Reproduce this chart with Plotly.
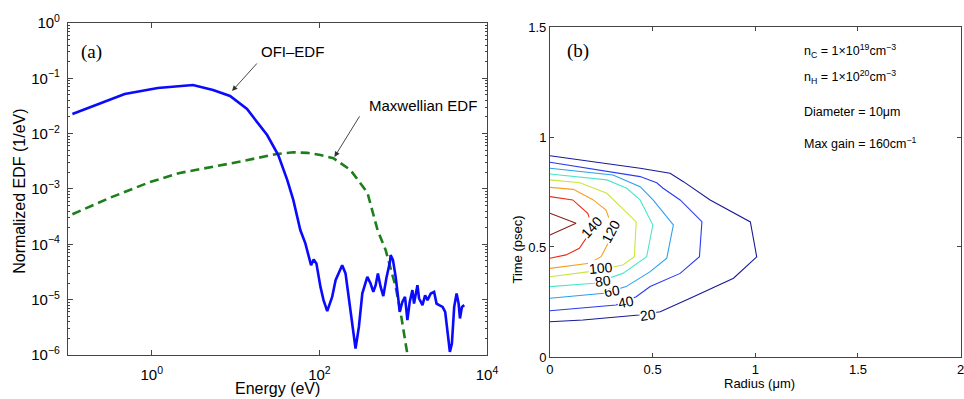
import plotly.graph_objects as go

# ---------------- Panel (a) data ----------------
ofi_energy = [0.113, 0.475, 1.18, 3.10, 5.38, 8.59, 13.7, 23.8, 32.3, 41.4, 48.9, 59.2, 68, 74.5,
              79.5, 85.4, 92.1, 103, 112, 124, 142, 156, 187, 205, 224, 247, 270, 296, 325, 373,
              408, 440, 469, 499, 538, 579, 634, 695, 708, 755, 813, 877, 908, 977, 1051, 1122,
              1196, 1288, 1346, 1479, 1546, 1698, 1825, 1950, 2135, 2338, 2500, 2685, 2950, 3170,
              3383, 3605, 3811, 4058, 4336, 4583, 4753, 5023, 5350]
ofi_edf = [0.0226, 0.052, 0.0668, 0.0757, 0.0614, 0.0479, 0.0279, 0.00944, 0.0041, 0.00145,
           6.3e-4, 1.81e-4, 1.04e-4, 5.94e-5, 4.2e-5, 5.33e-5, 4.52e-5, 1.7e-5, 9.8e-6, 6.2e-6,
           1.12e-5, 2.25e-5, 4.2e-5, 2.98e-5, 1.12e-5, 3.7e-6, 1.31e-6, 3.22e-6, 1.29e-5, 2.58e-5,
           1.96e-5, 1.38e-5, 1.83e-5, 2.98e-5, 1.7e-5, 1.16e-5, 2.58e-5, 4.83e-5, 6.38e-5, 5.18e-5,
           2.58e-5, 9.8e-6, 6.0e-6, 9.1e-6, 1.12e-5, 4.26e-6, 9.1e-6, 1.49e-5, 8.5e-6, 1.83e-5,
           1.05e-5, 7.96e-6, 1.2e-5, 9.8e-6, 1.29e-5, 1.38e-5, 8.5e-6, 7.96e-6, 7.4e-6, 6.0e-6,
           2.8e-6, 1.14e-6, 1.61e-6, 7.4e-6, 1.29e-5, 8.5e-6, 4.57e-6, 7.4e-6, 7.96e-6]

max_energy = [0.113, 0.314, 0.946, 2.16, 9.3, 31.3, 48.9, 71.7, 103, 147, 235, 375, 495, 617,
              813, 935, 1070, 1140]
max_edf = [3.5e-4, 6.9e-4, 1.33e-3, 1.95e-3, 2.95e-3, 4.3e-3, 4.6e-3, 4.5e-3, 4.1e-3, 3.6e-3,
           2.2e-3, 8.5e-4, 1.8e-4, 7.9e-5, 1.7e-5, 5.7e-6, 1.6e-6, 0.9e-6]

a_xtickvals = [1, 100, 10000]
a_xticktext = ["10<sup>0</sup>", "10<sup>2</sup>", "10<sup>4</sup>"]
a_ytickvals = [1e-6, 1e-5, 1e-4, 1e-3, 1e-2, 1e-1, 1]
a_yticktext = ["10<sup>\u22126</sup>", "10<sup>\u22125</sup>", "10<sup>\u22124</sup>",
               "10<sup>\u22123</sup>", "10<sup>\u22122</sup>", "10<sup>\u22121</sup>", "10<sup>0</sup>"]

# ---------------- Panel (b) data: gain contours ----------------
contour_levels = [20, 40, 60, 80, 100, 120, 140, 160]
contour_colors = ["#1a1a9a", "#2a3af0", "#2aa0f0", "#4ee6c8", "#c8e640", "#f5a020", "#f02a18", "#8c2020"]
contour_r = [
    [0, 0.439, 0.585, 0.650, 0.780, 0.976, 1.007, 0.894, 0.683, 0.537, 0.434, 0.161, 0],
    [0, 0.439, 0.520, 0.551, 0.634, 0.740, 0.728, 0.634, 0.488, 0.420, 0.322, 0],
    [0, 0.307, 0.439, 0.502, 0.601, 0.569, 0.488, 0.371, 0.263, 0],
    [0, 0.277, 0.374, 0.439, 0.501, 0.471, 0.355, 0.215, 0],
    [0, 0.146, 0.277, 0.420, 0.411, 0.355, 0.192, 0],
    [0, 0.114, 0.211, 0.273, 0.312, 0.249, 0.192, 0],
    [0, 0.111, 0.184, 0.210, 0.143, 0.078, 0],
    [0, 0.127, 0],
]
contour_t = [
    [0.915, 0.858, 0.835, 0.797, 0.714, 0.614, 0.455, 0.358, 0.267, 0.206, 0.191, 0.168, 0.160],
    [0.885, 0.820, 0.792, 0.767, 0.714, 0.615, 0.456, 0.380, 0.320, 0.274, 0.236, 0.210],
    [0.858, 0.827, 0.774, 0.714, 0.600, 0.449, 0.388, 0.320, 0.290, 0.267],
    [0.832, 0.805, 0.767, 0.714, 0.600, 0.456, 0.380, 0.335, 0.320],
    [0.805, 0.792, 0.744, 0.614, 0.456, 0.418, 0.388, 0.365],
    [0.771, 0.762, 0.714, 0.668, 0.568, 0.456, 0.426, 0.403],
    [0.729, 0.714, 0.653, 0.586, 0.494, 0.464, 0.449],
    [0.653, 0.608, 0.555],
]
label_text = ["20", "40", "60", "80", "100", "120", "140"]
label_r = [0.478, 0.371, 0.302, 0.259, 0.249, 0.298, 0.205]
label_t = [0.193, 0.250, 0.302, 0.344, 0.403, 0.572, 0.590]
label_angle = [-8, -12, -10, -8, -5, -62, -48]

b_ticks_r = [0, 0.5, 1, 1.5, 2]
b_ticks_t = [0, 0.5, 1, 1.5]

info_lines = ["n<sub>C</sub> = 1\u00d710<sup>19</sup>cm<sup>\u22123</sup>",
              "n<sub>H</sub> = 1\u00d710<sup>20</sup>cm<sup>\u22123</sup>",
              "Diameter = 10\u03bcm",
              "Max gain = 160cm<sup>\u22121</sup>"]
info_y = [0.873, 0.808, 0.72, 0.642]

SANS = "Liberation Sans, Arial, Helvetica, sans-serif"
SERIF = "Liberation Serif, Times New Roman, serif"
AXC = "#444444"

fig = go.Figure()

fig.add_trace(go.Scatter(x=max_energy, y=max_edf, mode="lines", xaxis="x", yaxis="y",
                         line=dict(color="#1c7f1c", width=2.6, dash="9px,5px"), showlegend=False))
fig.add_trace(go.Scatter(x=ofi_energy, y=ofi_edf, mode="lines", xaxis="x", yaxis="y",
                         line=dict(color="#0a0aff", width=2.6), showlegend=False))

for r, t, c in zip(contour_r, contour_t, contour_colors):
    fig.add_trace(go.Scatter(x=r, y=t, mode="lines", xaxis="x2", yaxis="y2",
                             line=dict(color=c, width=1.1), showlegend=False))


def ptext(txt, x, y, size, family=SANS, angle=0, xanchor="center"):
    return dict(text=txt, xref="paper", yref="paper", x=x, y=y, xanchor=xanchor, yanchor="middle",
                textangle=angle, showarrow=False, font=dict(family=family, size=size, color="black"))


annotations = []
# panel (a) texts
annotations.append(ptext("(a)", 0.0944, 0.870, 19, SERIF))
annotations.append(ptext("OFI\u2013EDF", 0.303, 0.870, 15))
annotations.append(ptext("Maxwellian EDF", 0.4385, 0.735, 15))
annotations.append(dict(text="", x=0.958, y=-1.23, xref="x", yref="y", ax=1.27, ay=-0.705,
                        axref="x", ayref="y", showarrow=True, arrowhead=2, arrowsize=1.2,
                        arrowwidth=0.9, arrowcolor="#333333"))
annotations.append(dict(text="", x=2.18, y=-2.42, xref="x", yref="y", ax=2.49, ay=-1.66,
                        axref="x", ayref="y", showarrow=True, arrowhead=2, arrowsize=1.2,
                        arrowwidth=0.9, arrowcolor="#333333"))
annotations.append(ptext("Energy (eV)", 0.2875, 0.026, 16))
annotations.append(ptext("Normalized EDF (1/eV)", 0.020, 0.52, 16, angle=-90))
# panel (b) texts
annotations.append(ptext("(b)", 0.5996, 0.872, 19, SERIF))
for txt, yy in zip(info_lines, info_y):
    annotations.append(ptext(txt, 0.832, yy, 12.5, xanchor="left"))
annotations.append(ptext("Radius (\u03bcm)", 0.788, 0.040, 13))
annotations.append(ptext("Time (psec)", 0.5365, 0.375, 13, angle=-90))
for txt, rr, tt, ang in zip(label_text, label_r, label_t, label_angle):
    annotations.append(dict(text=txt, x=rr, y=tt, xref="x2", yref="y2", textangle=ang,
                            showarrow=False, bgcolor="white", borderpad=0,
                            font=dict(family=SANS, size=14, color="black")))

axis_common = dict(showline=True, linecolor=AXC, linewidth=1, mirror="ticks", ticks="inside",
                   tickcolor=AXC, showgrid=False, zeroline=False, automargin=False,
                   ticklabeloverflow="allow")

fig.update_layout(
    template="none",
    width=964, height=399, margin=dict(l=0, r=0, t=0, b=0, pad=0),
    paper_bgcolor="white", plot_bgcolor="white", showlegend=False,
    xaxis=dict(domain=[0.0705, 0.5052], type="log", range=[-1, 4], tickvals=a_xtickvals,
               ticktext=a_xticktext, ticklen=5, ticklabelstandoff=6,
               tickfont=dict(family=SANS, size=15, color="black"), anchor="y", **axis_common),
    yaxis=dict(domain=[0.1103, 0.9424], type="log", range=[-6, 0], tickvals=a_ytickvals,
               ticktext=a_yticktext, ticklen=5, ticklabelstandoff=4,
               tickfont=dict(family=SANS, size=15, color="black"),
               minor=dict(ticks="inside", ticklen=2.5, dtick="D1", tickcolor=AXC, showgrid=False),
               anchor="x", **axis_common),
    xaxis2=dict(domain=[0.5705, 0.9965], range=[0, 2], tickvals=b_ticks_r,
                ticktext=[("%g" % v) for v in b_ticks_r], ticklen=4,
                tickfont=dict(family=SANS, size=13, color="black"), anchor="y2", **axis_common),
    yaxis2=dict(domain=[0.1053, 0.9323], range=[0, 1.5], tickvals=b_ticks_t,
                ticktext=[("%g" % v) for v in b_ticks_t], ticklen=4,
                tickfont=dict(family=SANS, size=13, color="black"), anchor="x2", **axis_common),
    annotations=annotations,
)

fig.write_html("out.html")
